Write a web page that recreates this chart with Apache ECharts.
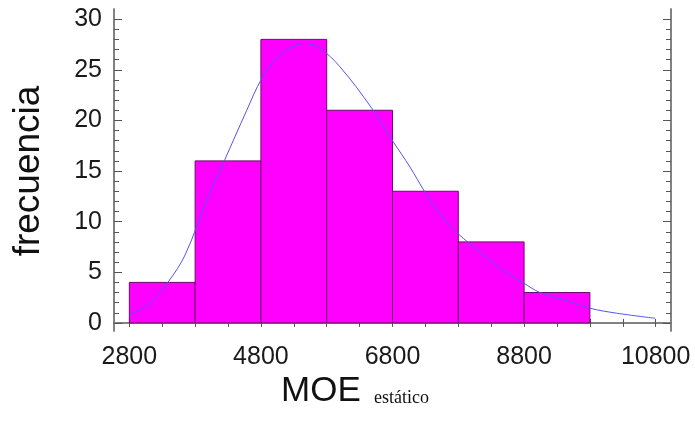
<!DOCTYPE html>
<html>
<head>
<meta charset="utf-8">
<script src="https://cdn.jsdelivr.net/npm/echarts@6/dist/echarts.min.js"></script>
<style>
html,body{margin:0;padding:0;background:#fff;}
#c{width:695px;height:421px;}
</style>
</head>
<body>
<div id="c"></div>
<script>
// Histogram bins (lower and upper edges) and frequencies
var binStarts = [2800, 3800, 4800, 5800, 6800, 7800, 8800];
var binEnds   = [3800, 4800, 5800, 6800, 7800, 8800, 9800];
var counts    = [4, 16, 28, 21, 13, 8, 3];

// Fitted density curve
var curveX = [2800, 3115, 3393, 3647, 3976, 4250, 4585, 4810, 5040, 5270, 5470, 5700, 6000, 6485, 6810, 7065, 7295, 7520, 7800, 8130, 8435, 8790, 9040, 9450, 9800, 10205, 10790];
var curveY = [0.79, 1.94, 4.07, 6.7, 12.1, 16.1, 21.0, 24.1, 26.1, 27.25, 27.6, 27.1, 25.3, 21.2, 17.9, 15.4, 12.9, 10.8, 8.8, 7.0, 5.4, 3.95, 3.0, 2.2, 1.45, 0.96, 0.46];

// Axis ticks and labels
var xLabels = [2800, 4800, 6800, 8800, 10800];
var xTicks = [2800, 3300, 3800, 4300, 4800, 5300, 5800, 6300, 6800, 7300, 7800, 8300, 8800, 9300, 9800, 10300, 10800];
var yLabels = [0, 5, 10, 15, 20, 25, 30];
var yMinorTicks = [1, 2, 3, 4, 6, 7, 8, 9, 11, 12, 13, 14, 16, 17, 18, 19, 21, 22, 23, 24, 26, 27, 28, 29];

var xMin = 2567, xMax = 11033, yMin = -0.8, yMax = 31;

var barData = binStarts.map(function (s, i) { return [s, binEnds[i], counts[i]]; });
var curveData = curveX.map(function (x, i) { return [x, curveY[i]]; });

var frameLine = { show: true, lineStyle: { color: '#7a7a7a', width: 1.5 } };
var tickStyle = { color: '#555', width: 1 };
var labelFont = { fontFamily: 'Liberation Sans, Arial, sans-serif', fontSize: 25, color: '#1a1a1a' };
var plain = function (v) { return String(v); };

function xAx(pos, showLabel) {
  return {
    type: 'value', position: pos, min: xMin, max: xMax,
    axisLine: frameLine,
    axisTick: { show: true, inside: true, length: 4, lineStyle: tickStyle, customValues: xTicks },
    axisLabel: Object.assign({ show: showLabel, margin: 14, customValues: xLabels, formatter: plain }, labelFont),
    splitLine: { show: false }
  };
}
function yAx(pos, major, showLabel) {
  return {
    type: 'value', position: pos, min: yMin, max: yMax, offset: 0,
    axisLine: frameLine,
    axisTick: { show: true, inside: true, length: major ? 8 : 5, lineStyle: tickStyle, customValues: major ? yLabels : yMinorTicks },
    axisLabel: Object.assign({ show: showLabel, margin: 12, customValues: yLabels, formatter: plain }, labelFont),
    splitLine: { show: false }
  };
}

var chart = echarts.init(document.getElementById('c'), null, { renderer: 'canvas' });
chart.setOption({
  animation: false,
  backgroundColor: '#ffffff',
  grid: { left: 114, right: 24, top: 9, bottom: 90, containLabel: false },
  xAxis: [xAx('bottom', true), xAx('top', false)],
  yAxis: [yAx('left', true, true), yAx('left', false, false), yAx('right', true, false), yAx('right', false, false)],
  series: [
    {
      type: 'custom',
      xAxisIndex: 0, yAxisIndex: 0,
      data: barData,
      encode: { x: [0, 1], y: 2 },
      renderItem: function (params, api) {
        var p0 = api.coord([api.value(0), 0]);
        var p1 = api.coord([api.value(1), api.value(2)]);
        return {
          type: 'rect',
          shape: { x: p0[0], y: p1[1], width: p1[0] - p0[0], height: p0[1] - p1[1] },
          style: { fill: '#ff00ff', stroke: '#6a0a6a', lineWidth: 1 }
        };
      }
    },
    {
      type: 'line',
      xAxisIndex: 0, yAxisIndex: 0,
      data: curveData,
      smooth: 0.35,
      symbol: 'none',
      lineStyle: { color: '#5555ee', width: 1 },
      z: 5
    }
  ],
  graphic: [
    {
      type: 'text', x: 29, y: 171, rotation: Math.PI / 2,
      style: { text: 'frecuencia', fontFamily: 'Liberation Sans, Arial, sans-serif', fontSize: 37, fill: '#111', align: 'center', verticalAlign: 'middle' }
    },
    {
      type: 'text', x: 281, y: 391,
      style: { text: 'MOE', fontFamily: 'Liberation Sans, Arial, sans-serif', fontSize: 35, fill: '#111', align: 'left', verticalAlign: 'middle' }
    },
    {
      type: 'text', x: 374, y: 398,
      style: { text: 'estático', fontFamily: 'Liberation Serif, Times New Roman, serif', fontSize: 18, fill: '#111', align: 'left', verticalAlign: 'middle' }
    }
  ]
});
</script>
</body>
</html>
